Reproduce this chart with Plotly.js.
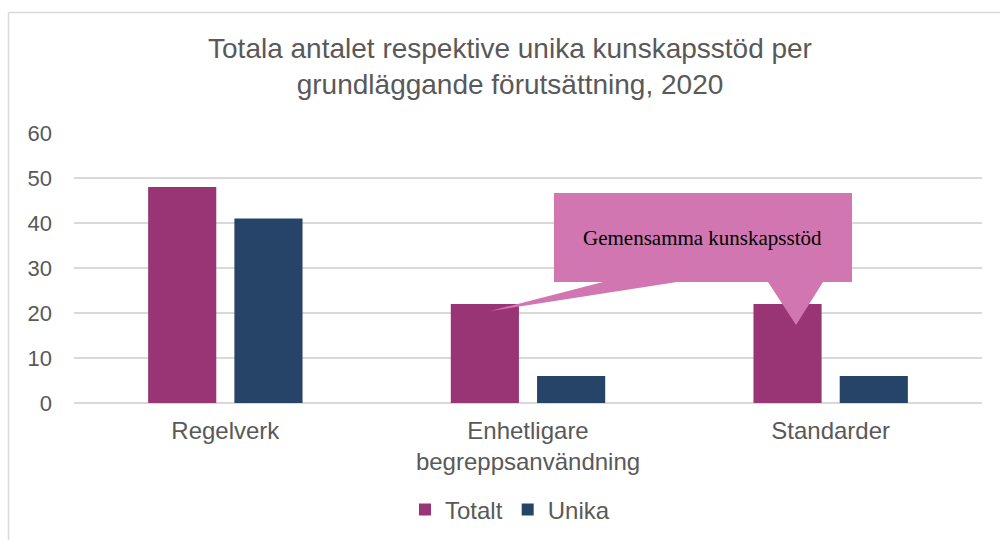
<!DOCTYPE html>
<html>
<head>
<meta charset="utf-8">
<script src="https://cdn.plot.ly/plotly-3.0.1.min.js"></script>
<style>html,body{margin:0;padding:0;background:#fff;}#chart{width:1000px;height:540px;}</style>
</head>
<body>
<div id="chart"></div>
<script>
const categories = ["Regelverk", "Enhetligare<br>begreppsanvändning", "Standarder"];
const totalt = [48, 22, 22];
const unika = [41, 6, 6];
const seriesNames = ["Totalt", "Unika"];
const yTicks = [0, 10, 20, 30, 40, 50, 60];
const titleText = "Totala antalet respektive unika kunskapsstöd per<br>grundläggande förutsättning, 2020";
const calloutText = "Gemensamma kunskapsstöd";

// plot area in pixels (for callout geometry in paper coords)
const L = 74, R = 982, T = 133, B = 403;
const px = x => (x - L) / (R - L);
const py = y => (B - y) / (B - T);
function path(pts) {
  return "M" + pts.map(p => px(p[0]).toFixed(4) + "," + py(p[1]).toFixed(4)).join(" L") + " Z";
}
const calloutPath = path([
  [554, 193], [852, 193], [852, 282], [823, 282], [796, 325], [768, 282],
  [677, 282], [490, 311], [603, 282], [554, 282]
]);

const textColor = "#595959";
const font = "Arial, 'Liberation Sans', sans-serif";

const data = [
  { type: "bar", name: seriesNames[0], x: categories, y: totalt,
    marker: { color: "#993574" }, hoverinfo: "y" },
  { type: "bar", name: seriesNames[1], x: categories, y: unika,
    marker: { color: "#264468" }, hoverinfo: "y" }
];

const layout = {
  width: 1000, height: 540,
  margin: { l: L, r: 1000 - R, t: T, b: 540 - B, autoexpand: false },
  paper_bgcolor: "#ffffff", plot_bgcolor: "#ffffff",
  barmode: "group", bargap: 0.43, bargroupgap: 0.21,
  font: { family: font, color: textColor },
  title: { text: titleText, font: { family: font, size: 28, color: textColor },
    x: 0.51, xref: "container", xanchor: "center",
    y: 0.893, yref: "container", yanchor: "middle" },
  xaxis: { type: "category", showgrid: false, zeroline: false, automargin: false,
    showline: false, ticks: "", tickfont: { size: 24, color: textColor },
    ticklabelstandoff: 11 },
  yaxis: { range: [0, 60], tickvals: yTicks, ticktext: yTicks.map(String), automargin: false,
    showgrid: true, gridcolor: "#d9d9d9", gridwidth: 1.5,
    zeroline: true, zerolinecolor: "#d9d9d9", zerolinewidth: 1.5,
    showline: false, ticks: "", tickfont: { size: 22, color: textColor },
    ticklabelstandoff: 21 },
  legend: { orientation: "h", x: 0.51, xref: "container", xanchor: "center",
    y: 1 - 510 / 540, yref: "container", yanchor: "middle",
    font: { size: 24, color: textColor }, itemwidth: 30 },
  showlegend: true,
  shapes: [
    { type: "path", xref: "paper", yref: "paper", path: calloutPath,
      fillcolor: "#D176B1", line: { width: 0 }, layer: "above" },
    { type: "line", xref: "paper", yref: "paper", x0: px(8.5), x1: px(8.5),
      y0: py(12.5), y1: py(560), line: { color: "#d9d9d9", width: 1.5 } },
    { type: "line", xref: "paper", yref: "paper", x0: px(8.5), x1: px(1010),
      y0: py(12.5), y1: py(12.5), line: { color: "#d9d9d9", width: 1.5 } }
  ],
  annotations: [
    { text: calloutText, xref: "paper", yref: "paper", x: px(702), y: py(238),
      xanchor: "center", yanchor: "middle", showarrow: false,
      font: { family: "'Times New Roman', 'Liberation Serif', serif", size: 21, color: "#000000" } }
  ]
};

Plotly.newPlot("chart", data, layout, { displayModeBar: false, staticPlot: true });
</script>
</body>
</html>
